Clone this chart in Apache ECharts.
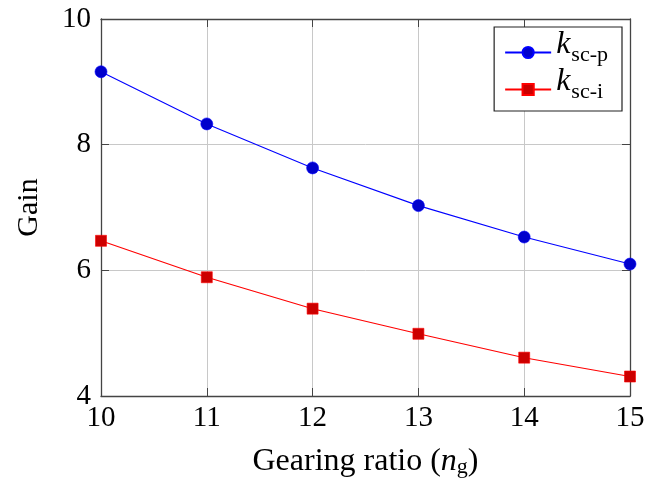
<!DOCTYPE html>
<html>
<head>
<meta charset="utf-8">
<script src="https://cdn.jsdelivr.net/npm/echarts@6/dist/echarts.min.js"></script>
<style>
  html, body { margin: 0; padding: 0; background: #ffffff; }
  #chart { width: 650px; height: 484px; }
</style>
</head>
<body>
<div id="chart"></div>
<script>
// Gearing ratios on the x axis
const gearingRatios = [10, 11, 12, 13, 14, 15];
// Proportional gain k_sc-p
const kScP = [9.16, 8.33, 7.63, 7.03, 6.53, 6.10];
// Integral gain k_sc-i
const kScI = [6.47, 5.89, 5.39, 4.99, 4.61, 4.31];

const FONT = '"Liberation Serif", "DejaVu Serif", serif';
const FRAME = '#444444';
const GRID = '#c8c8c8';

const pairs = (ys) => gearingRatios.map((x, i) => [x, ys[i]]);

const chart = echarts.init(document.getElementById('chart'), null, { renderer: 'canvas' });

const legendRich = {
  k: { fontFamily: FONT, fontStyle: 'italic', fontSize: 32, color: '#000', verticalAlign: 'bottom', lineHeight: 27, padding: [0, 1, 5, 0] },
  s: { fontFamily: FONT, fontSize: 22, color: '#000', verticalAlign: 'bottom', lineHeight: 22 }
};

const option = {
  backgroundColor: '#ffffff',
  animation: false,
  grid: { left: 101, right: 20, top: 19, bottom: 88, containLabel: false },
  legend: {
    right: 28,
    top: 27,
    orient: 'vertical',
    backgroundColor: '#ffffff',
    borderColor: '#222222',
    borderWidth: 1.2,
    borderRadius: 0,
    padding: [2, 14, 8, 10],
    itemGap: 0,
    itemWidth: 46,
    itemHeight: 14,
    textStyle: { rich: legendRich },
    formatter: (name) => name === 'p' ? '{k|k}{s|sc-p}' : '{k|k}{s|sc-i}',
    data: ['p', 'i']
  },
  xAxis: [
    {
      type: 'value', min: 10, max: 15, interval: 1,
      name: '{t|Gearing ratio (}{i|n}{s|g}{t|)}',
      nameLocation: 'middle', nameGap: 49,
      nameTextStyle: {
        rich: {
          t: { fontFamily: FONT, fontSize: 32, color: '#000', verticalAlign: 'bottom', lineHeight: 33 },
          i: { fontFamily: FONT, fontStyle: 'italic', fontSize: 32, color: '#000', verticalAlign: 'bottom', lineHeight: 33 },
          s: { fontFamily: FONT, fontSize: 22, color: '#000', verticalAlign: 'bottom', lineHeight: 20 }
        }
      },
      axisLine: { show: true, onZero: false, lineStyle: { color: FRAME, width: 1.3 } },
      axisTick: { show: true, inside: true, length: 8, lineStyle: { color: FRAME, width: 1 } },
      axisLabel: { fontFamily: FONT, fontSize: 29, color: '#000', margin: 8 },
      splitLine: { show: true, lineStyle: { color: GRID, width: 1 } }
    },
    {
      type: 'value', min: 10, max: 15, interval: 1, position: 'top',
      axisLine: { show: true, onZero: false, lineStyle: { color: FRAME, width: 1.3 } },
      axisTick: { show: true, inside: true, length: 8, lineStyle: { color: FRAME, width: 1 } },
      axisLabel: { show: false },
      splitLine: { show: false }
    }
  ],
  yAxis: [
    {
      type: 'value', min: 4, max: 10, interval: 2,
      name: 'Gain', nameLocation: 'middle', nameGap: 57, nameRotate: 90,
      nameTextStyle: { fontFamily: FONT, fontSize: 30, color: '#000' },
      axisLine: { show: true, onZero: false, lineStyle: { color: FRAME, width: 1.3 } },
      axisTick: { show: true, inside: true, length: 8, lineStyle: { color: FRAME, width: 1 } },
      axisLabel: { fontFamily: FONT, fontSize: 29, color: '#000', margin: 10 },
      splitLine: { show: true, lineStyle: { color: GRID, width: 1 } }
    },
    {
      type: 'value', min: 4, max: 10, interval: 2, position: 'right',
      axisLine: { show: true, onZero: false, lineStyle: { color: FRAME, width: 1.3 } },
      axisTick: { show: true, inside: true, length: 8, lineStyle: { color: FRAME, width: 1 } },
      axisLabel: { show: false },
      splitLine: { show: false }
    }
  ],
  series: [
    {
      name: 'p', type: 'line', data: pairs(kScP),
      symbol: 'circle', symbolSize: 12,
      lineStyle: { color: '#0000ff', width: 1.1 },
      itemStyle: { color: '#0000cc', borderColor: '#0000ff', borderWidth: 0.6 }
    },
    {
      name: 'i', type: 'line', data: pairs(kScI),
      symbol: 'rect', symbolSize: 11,
      lineStyle: { color: '#ff0000', width: 1.1 },
      itemStyle: { color: '#cc0000', borderColor: '#ff0000', borderWidth: 0.6 }
    }
  ]
};

chart.setOption(option);
</script>
</body>
</html>
